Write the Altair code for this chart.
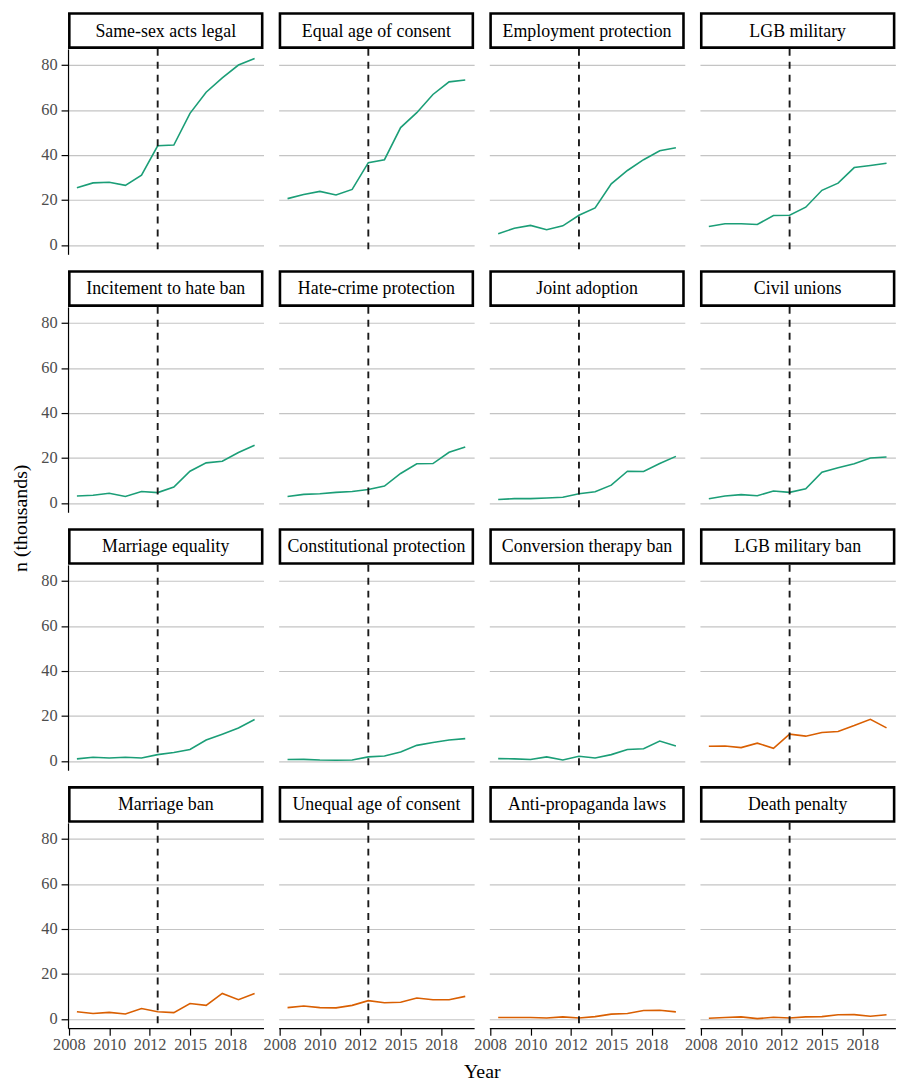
import altair as alt
import pandas as pd

FONT = "Liberation Serif"

years = list(range(2008, 2020))

categories = [
    "Same-sex acts legal", "Equal age of consent", "Employment protection", "LGB military",
    "Incitement to hate ban", "Hate-crime protection", "Joint adoption", "Civil unions",
    "Marriage equality", "Constitutional protection", "Conversion therapy ban", "LGB military ban",
    "Marriage ban", "Unequal age of consent", "Anti-propaganda laws", "Death penalty",
]
policy_type = ["Protective"] * 11 + ["Restrictive"] * 5

same_sex_acts_legal = [25.4, 27.6, 27.9, 26.5, 31.0, 44.1, 44.4, 58.5, 67.9, 74.3, 80.0, 82.9]
equal_age_of_consent = [20.6, 22.4, 23.8, 22.2, 24.7, 36.6, 37.9, 52.2, 58.8, 66.9, 72.5, 73.3]
employment_protection = [5.0, 7.4, 8.7, 6.8, 8.5, 13.2, 16.5, 27.2, 33.1, 37.9, 41.9, 43.2]
lgb_military = [8.2, 9.4, 9.4, 9.1, 13.1, 13.2, 16.8, 24.3, 27.5, 34.4, 35.3, 36.3]
incitement_to_hate_ban = [3.1, 3.4, 4.3, 2.9, 5.1, 4.6, 7.1, 14.1, 17.8, 18.5, 22.4, 25.6]
hate_crime_protection = [2.9, 3.8, 4.1, 4.7, 5.1, 6.0, 7.5, 13.1, 17.4, 17.5, 22.5, 24.9]
joint_adoption = [1.5, 1.9, 1.9, 2.2, 2.5, 4.1, 5.0, 7.9, 14.1, 14.0, 17.5, 20.7]
civil_unions = [1.9, 3.1, 3.7, 3.2, 5.3, 4.7, 6.3, 13.7, 15.6, 17.4, 20.0, 20.4]
marriage_equality = [0.9, 1.6, 1.3, 1.6, 1.3, 2.8, 3.7, 5.1, 9.3, 11.9, 14.6, 18.4]
constitutional_protection = [0.6, 0.7, 0.4, 0.3, 0.4, 1.8, 2.2, 4.0, 6.9, 8.2, 9.3, 9.9]
conversion_therapy_ban = [1.0, 0.9, 0.6, 1.8, 0.4, 2.1, 1.3, 2.8, 5.1, 5.4, 8.8, 6.6]
lgb_military_ban = [6.5, 6.6, 5.9, 7.9, 5.6, 11.9, 11.0, 12.6, 13.1, 15.7, 18.5, 14.7]
marriage_ban = [3.2, 2.4, 2.9, 2.2, 4.6, 3.2, 2.8, 6.8, 6.0, 11.3, 8.5, 11.3]
unequal_age_of_consent = [5.0, 5.7, 5.0, 4.9, 6.0, 8.1, 7.2, 7.4, 9.3, 8.5, 8.5, 10.0]
anti_propaganda_laws = [0.6, 0.6, 0.6, 0.4, 0.9, 0.4, 1.0, 2.1, 2.4, 3.7, 3.8, 3.1]
death_penalty = [0.3, 0.6, 0.9, 0.1, 0.7, 0.4, 0.9, 1.0, 1.8, 1.9, 1.2, 1.8]

series = [
    same_sex_acts_legal, equal_age_of_consent, employment_protection, lgb_military,
    incitement_to_hate_ban, hate_crime_protection, joint_adoption, civil_unions,
    marriage_equality, constitutional_protection, conversion_therapy_ban, lgb_military_ban,
    marriage_ban, unequal_age_of_consent, anti_propaganda_laws, death_penalty,
]

type_colors = {"Protective": "#1b9e77", "Restrictive": "#d95f02"}
cutoff_year = [2013]

x_tick_values = [2007.5, 2010, 2012.5, 2015, 2017.5]
x_tick_labels = ["2008", "2010", "2012", "2015", "2018"]
y_tick_values = [0, 20, 40, 60, 80]

rows = []
for cat, ptype, vals in zip(categories, policy_type, series):
    for yr, v in zip(years, vals):
        rows.append({"category": cat, "type": ptype, "year": yr, "n": v})
df = pd.DataFrame(rows)

W, H, SH = 197, 207, 37
xscale = alt.Scale(domain=[2007.45, 2019.55], nice=False, zero=False)
yscale = alt.Scale(domain=[-4.15, 87.15], nice=False, zero=False)
label_expr = ("[" + ",".join(f"'{l}'" for l in x_tick_labels) + "][indexof(["
              + ",".join(str(v) for v in x_tick_values) + "], datum.value)]")


def strip(title):
    base = alt.Chart(pd.DataFrame({"t": [title]}))
    box = base.mark_rect(fill="white", stroke="black", strokeWidth=2.6).encode(
        x=alt.value(1.3), x2=alt.value(W - 1.3), y=alt.value(1.3), y2=alt.value(SH - 1.3))
    txt = base.mark_text(font=FONT, fontSize=18, color="black", baseline="middle").encode(
        text="t:N", x=alt.value(W / 2), y=alt.value(SH / 2 + 1))
    return alt.layer(box, txt).properties(width=W, height=SH)


def plot_panel(i):
    r, c = divmod(i, 4)
    cat = categories[i]
    color = type_colors[policy_type[i]]
    d = df[df.category == cat]
    if c == 0:
        yaxis = alt.Axis(values=y_tick_values, title=None, grid=True, domain=True,
                         ticks=True, labels=True)
    else:
        yaxis = alt.Axis(values=y_tick_values, title=None, grid=True, domain=False,
                         ticks=False, labels=False)
    if r == 3:
        xaxis = alt.Axis(values=x_tick_values, labelExpr=label_expr, title=None, grid=False,
                         labelOverlap=False, labelFlush=False)
    else:
        xaxis = None
    line = alt.Chart(d).mark_line(color=color, strokeWidth=1.6).encode(
        x=alt.X("year:Q", scale=xscale, axis=xaxis),
        y=alt.Y("n:Q", scale=yscale, axis=yaxis),
    )
    rule = alt.Chart(pd.DataFrame({"year": cutoff_year})).mark_rule(
        color="#1a1a1a", strokeWidth=1.9, strokeDash=[7, 6]).encode(
        x=alt.X("year:Q", scale=xscale, axis=xaxis),
        y=alt.value(0), y2=alt.value(H),
    )
    return alt.layer(line, rule).properties(width=W, height=H)


row_charts = []
for r in range(4):
    items = [strip(categories[r * 4 + c]) for c in range(4)]
    items += [plot_panel(r * 4 + c) for c in range(4)]
    row_charts.append(alt.concat(*items, columns=4, spacing={"row": 0, "column": 15.3},
                                 align="each", bounds="flush"))

grid = alt.vconcat(*row_charts, spacing=15)

year_chart = alt.Chart(pd.DataFrame({"t": ["Year"]})).mark_text(
    font=FONT, fontSize=20, color="black", baseline="alphabetic").encode(
    text="t:N", x=alt.value(417.5), y=alt.value(25)).properties(width=835, height=26)

main = alt.vconcat(grid, year_chart, spacing=0)

ytitle_chart = alt.Chart(pd.DataFrame({"t": ["n (thousands)"]})).mark_text(
    font=FONT, fontSize=20, color="black", angle=270, baseline="alphabetic").encode(
    text="t:N", x=alt.value(14), y=alt.value(510)).properties(width=20, height=1021)

chart = alt.hconcat(ytitle_chart, main, spacing=7.5).properties(
    padding={"left": 3, "top": 0, "right": 0, "bottom": 0},
    background="white",
).configure_view(
    stroke="transparent", strokeWidth=0
).configure_axis(
    labelFont=FONT, labelFontSize=16.5, labelColor="#4d4d4d",
    domainColor="black", domainWidth=1.2, tickColor="black", tickWidth=1.2,
    tickSize=7, gridColor="#c4c4c4", gridWidth=1.2,
).configure_axisX(labelPadding=1).configure_axisY(labelPadding=4)

chart.save("out.html", embed_options={"renderer": "svg", "actions": False})
